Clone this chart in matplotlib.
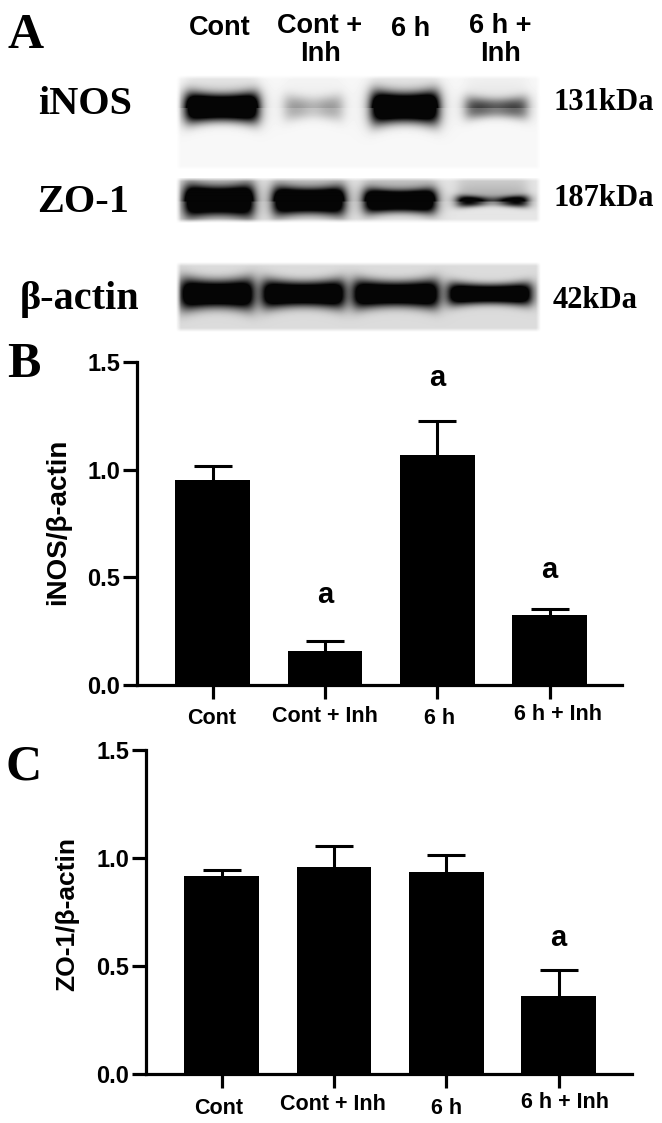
import numpy as np
import matplotlib
matplotlib.use('Agg')
import matplotlib.pyplot as plt

W, H = 662, 1123
SERIF = 'Liberation Serif'
SANS = 'Liberation Sans'

groups = ['Cont', 'Cont + Inh', '6 h', '6 h + Inh']
inos_mean = [0.95, 0.16, 1.07, 0.325]
inos_top = [1.015, 0.205, 1.225, 0.355]
zo1_mean = [0.915, 0.96, 0.935, 0.36]
zo1_top = [0.945, 1.055, 1.015, 0.48]
y_ticks = [0.0, 0.5, 1.0, 1.5]
inos_sig = [None, 'a', 'a', 'a']
zo1_sig = [None, None, None, 'a']

# band darkness, thickness and middle dip per lane, read from the blot
inos_band = [1.0, 0.22, 1.0, 0.42]
inos_thick = [1.0, 0.85, 1.1, 0.75]
inos_dip = [0.0, 0.35, 0.0, 0.2]
zo1_band = [1.0, 1.0, 1.0, 0.75]
zo1_thick = [1.15, 1.0, 0.85, 0.4]
zo1_dip = [0.0, 0.0, 0.0, 0.65]
actin_band = [1.0, 1.0, 1.0, 1.0]
actin_thick = [1.05, 0.95, 0.95, 0.75]
actin_dip = [0.0, 0.0, 0.0, 0.0]
inos_lanes = [(186, 258), (285, 342), (372, 438), (466, 527)]
zo1_lanes = [(185, 253), (274, 344), (365, 435), (458, 527)]
actin_lanes = [(181, 253), (263, 344), (354, 438), (449, 531)]

fig = plt.figure(figsize=(W / 100, H / 100), dpi=100, facecolor='white')


def px_axes(left, top, right, bottom):
    return fig.add_axes([left / W, 1 - bottom / H, (right - left) / W, (bottom - top) / H])


def label(x, y, s, family=SANS, size=16, **kw):
    fig.text(x / W, 1 - y / H, s, family=family, fontsize=size, fontweight='bold',
             ha='center', va='center', color='black', **kw)


def blot(top, bottom, lanes, bands, thicks, dips, center, half, bg, smear=0.0):
    """Draw one blot strip as a grey image."""
    left, right = 176, 541
    xs = np.arange(left, right) + 0.5
    ys = np.arange(top, bottom) + 0.5
    X, Y = np.meshgrid(xs, ys)
    dark = np.zeros_like(X)
    for (a, b), d, t, dip in zip(lanes, bands, thicks, dips):
        lane = 1 / (1 + np.exp((a - X) / 3.5)) * 1 / (1 + np.exp((X - b) / 3.5))
        edge = np.abs(2 * (X - (a + b) / 2) / (b - a))
        # bands thicken towards the lane edges
        thick = half * t * (0.85 + 0.25 * edge ** 2)
        body = np.exp(-np.abs((Y - center) / thick) ** 2.6)
        middle = 1 - dip * np.exp(-(edge / 0.45) ** 2)
        dark += lane * body * 1.5 * d * middle
        dark += lane * smear * d * np.exp(-np.clip(center - Y, 0, None) / 18) * (Y < center)
    img = 1 - np.clip(dark, 0, 1)
    img = bg + (0.02 - bg) * (1 - img)
    # strip edges fade softly into the white page
    fade = np.minimum(np.clip((X - left) / 5, 0, 1), np.clip((right - X) / 5, 0, 1))
    fade = fade * np.minimum(np.clip((Y - top) / 4, 0, 1), np.clip((bottom - Y) / 4, 0, 1))
    img = 1 + (img - 1) * fade
    ax = px_axes(left, top, right, bottom)
    ax.imshow(img, cmap='gray', vmin=0, vmax=1, aspect='auto', interpolation='bilinear')
    ax.axis('off')


def bars(ax_box, means, tops, sig, ylabel, ylabel_x, ylabel_y, ylabel_size, sig_y, name_pos):
    left, top, right, bottom = ax_box
    ax = px_axes(left, top, right, bottom)
    x = np.arange(len(means))
    step = 112.4
    first = left + 75.5
    ax.set_xlim((left - first) / step, (right - first) / step)
    ax.set_ylim(0, 1.5)
    ax.bar(x, means, width=0.665, color='black', zorder=2)
    err = np.array(tops) - np.array(means)
    _, caps, _ = ax.errorbar(x, means, yerr=[np.zeros_like(err), err], fmt='none', ecolor='black',
                             elinewidth=2.2, capsize=13.5, capthick=2.2, zorder=1)
    caps[0].set_visible(False)
    for sp in ['top', 'right']:
        ax.spines[sp].set_visible(False)
    for sp in ['left', 'bottom']:
        ax.spines[sp].set_linewidth(2.3)
    ax.set_yticks(y_ticks)
    ax.set_yticklabels([f'{v:.1f}' for v in y_ticks], family=SANS, fontsize=17, fontweight='bold')
    ax.set_xticks(x)
    ax.set_xticklabels([])
    ax.tick_params(axis='both', length=10, width=2.3, pad=2)
    label(ylabel_x, ylabel_y, ylabel, size=ylabel_size, rotation=90)
    for i, s in enumerate(sig):
        if s:
            label(first + i * step, sig_y[i], s, size=21)
    for g, (tx, ty) in zip(groups, name_pos):
        label(tx, ty, g, size=15.5)
    return ax


# panel A
label(26, 36, 'A', family=SERIF, size=36)
label(220, 28, 'Cont', size=19.5)
label(320, 40, 'Cont +\nInh', size=19.5, linespacing=1.1)
label(411, 29, '6 h', size=19.5)
label(500, 40, '6 h +\nInh', size=19.5, linespacing=1.1)
label(85, 105, 'iNOS', family=SERIF, size=29)
label(83, 203, 'ZO-1', family=SERIF, size=29)
label(80, 299, 'β-actin', family=SERIF, size=29)
label(604, 103, '131kDa', family=SERIF, size=22)
label(604, 199, '187kDa', family=SERIF, size=22)
label(595, 300, '42kDa', family=SERIF, size=22)

blot(75, 170, inos_lanes, inos_band, inos_thick, inos_dip, 108, 15, 0.97, smear=0.4)
blot(178, 223, zo1_lanes, zo1_band, zo1_thick, zo1_dip, 202, 14, 0.90, smear=0.5)
blot(262, 332, actin_lanes, actin_band, actin_thick, actin_dip, 294, 15, 0.86)

# panel B
label(24, 365, 'B', family=SERIF, size=36)
bars((137, 362, 622, 685), inos_mean, inos_top, inos_sig, 'iNOS/β-actin', 58, 522, 20,
     [0, 595, 378, 570],
     [(212, 718), (325, 717), (440, 719), (558, 714)])

# panel C
label(24, 768, 'C', family=SERIF, size=36)
bars((146, 750, 632, 1074), zo1_mean, zo1_top, zo1_sig, 'ZO-1/β-actin', 67, 914, 19,
     [0, 0, 0, 938],
     [(219, 1108), (333, 1105), (447, 1108), (565, 1103)])

fig.savefig('out.png', dpi=100)
